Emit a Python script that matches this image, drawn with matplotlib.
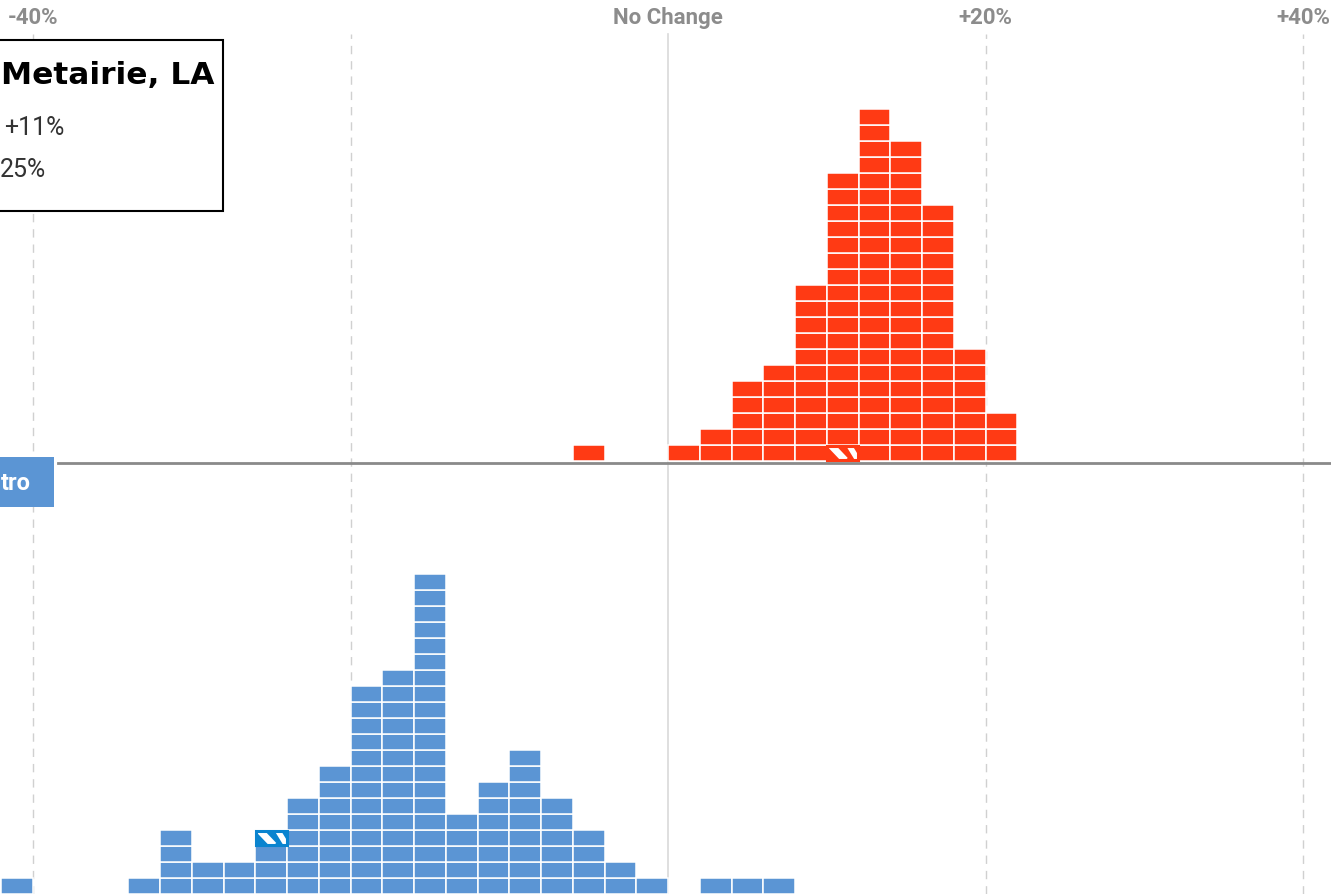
import matplotlib
matplotlib.use("Agg")
import matplotlib.pyplot as plt
from matplotlib.patches import Rectangle

# ---------------- data ----------------
bin_width = 2  # percent
# red series (upper histogram): bin left edges (%) and counts
red_bins = [-6, 0, 2, 4, 6, 8, 10, 12, 14, 16, 18, 20]
red_counts = [1, 1, 2, 5, 6, 11, 18, 22, 20, 16, 7, 3]
# blue series (lower histogram)
blue_bins = [-42, -34, -32, -30, -28, -26, -24, -22, -20, -18, -16, -14,
             -12, -10, -8, -6, -4, -2, 2, 4, 6]
blue_counts = [1, 1, 4, 2, 2, 4, 6, 8, 13, 14, 20, 5,
               7, 9, 6, 4, 2, 1, 1, 1, 1]
# highlighted cells (bin left edge, stack row index)
red_marker = (10, 0)
blue_marker = (-26, 3)

tick_values = [-40, 0, 20, 40]
tick_labels = ["-40%", "No Change", "+20%", "+40%"]
grid_values = [-40, -20, 0, 20, 40]

title_text = "Metairie, LA"
line1_text = "+11%"
line2_text = "25%"
group_label = "tro"

# ---------------- style ----------------
RED = "#FF3A14"
BLUE = "#5B95D4"
BLUE_DARK = "#0A84CF"
W, H = 1331, 895
DPI = 100

fig = plt.figure(figsize=(W / DPI, H / DPI), dpi=DPI)
ax = fig.add_axes([0, 0, 1, 1])
px_per_pct = 15.875
x0 = -668 / px_per_pct
ax.set_xlim(x0, x0 + W / px_per_pct)
ax.set_ylim(0, H / 16)
ax.axis("off")

def fx(px):
    return px / W

def fy(py):
    return 1 - py / H

red_base = 433 / 16
blue_base = 0.0
grid_top = (H - 35) / 16

# gridlines
for g in grid_values:
    if g == 0:
        ax.plot([g, g], [0, grid_top], color="#d9d9d9", lw=1.2, zorder=1)
    else:
        ax.plot([g, g], [0, grid_top], color="#d0d0d0", lw=1.0,
                dashes=(6, 5), zorder=1)

# baseline between groups
ax.plot([(58 - 668) / px_per_pct, x0 + W / px_per_pct],
        [(H - 463.5) / 16] * 2, color="#8a8a8a", lw=2, zorder=2)

gap = 0.03

def draw_marker(b, y, color):
    w = bin_width - 2 * gap
    h = 0.92
    x = b + gap
    yy = y + 0.04
    rect = Rectangle((x, yy), w, h, facecolor=color, edgecolor="none",
                     zorder=3)
    ax.add_patch(rect)
    # white diagonal stripes clipped to the cell
    for top_off, bot_off, lw in [(0.5 / 15.875 * 8, 0.5 / 15.875 * 36, 5.0),
                                 (0.5 / 15.875 * 44, 0.5 / 15.875 * 62, 4.0)]:
        ln, = ax.plot([x + top_off, x + bot_off], [yy + h, yy],
                      color="white", lw=lw, solid_capstyle="butt", zorder=3.5)
        ln.set_clip_path(rect)
    ax.add_patch(Rectangle((x, yy), w, h, facecolor="none", edgecolor=color,
                           lw=2.2, zorder=4))

def draw_stack(bins, counts, base, color, marker, mcolor):
    for b, c in zip(bins, counts):
        for r in range(c):
            if marker is not None and (b, r) == marker:
                draw_marker(b, base + r, mcolor)
            else:
                ax.add_patch(Rectangle((b, base + r), bin_width, 1,
                                       facecolor=color, edgecolor="white",
                                       lw=1.1, zorder=3))

draw_stack(red_bins, red_counts, red_base, RED, red_marker, RED)
draw_stack(blue_bins, blue_counts, blue_base, BLUE, blue_marker, BLUE_DARK)

# top tick labels
for v, lab in zip(tick_values, tick_labels):
    ax.text(v, (H - 18) / 16, lab, ha="center", va="center",
            fontsize=16, fontweight="bold", color="#8c8c8c",
            family=["Roboto", "DejaVu Sans"], zorder=5)

# legend box
ax.add_patch(Rectangle((fx(-5), fy(212)), fx(223) - fx(-5), fy(41) - fy(212),
                       transform=ax.transAxes, facecolor="white",
                       edgecolor="black", lw=1.5, zorder=6))
ax.text(fx(1), fy(84), title_text, transform=ax.transAxes, ha="left",
        va="baseline", fontsize=22.5, fontweight="bold", color="black",
        family=["DejaVu Sans"], zorder=7)
ax.text(fx(4), fy(135), line1_text, transform=ax.transAxes, ha="left",
        va="baseline", fontsize=18, color="#333333",
        family=["Roboto", "DejaVu Sans"], zorder=7)
ax.text(fx(0), fy(177), line2_text, transform=ax.transAxes, ha="left",
        va="baseline", fontsize=18, color="#333333",
        family=["Roboto", "DejaVu Sans"], zorder=7)

# group label box
ax.add_patch(Rectangle((fx(-5), fy(508)), fx(54) - fx(-5), fy(458) - fy(508),
                       transform=ax.transAxes, facecolor=BLUE,
                       edgecolor="none", zorder=6))
ax.text(fx(1), fy(490), group_label, transform=ax.transAxes, ha="left",
        va="baseline", fontsize=17, fontweight="bold", color="white",
        family=["Roboto", "DejaVu Sans"], zorder=7)

fig.savefig("out.png", dpi=DPI)
